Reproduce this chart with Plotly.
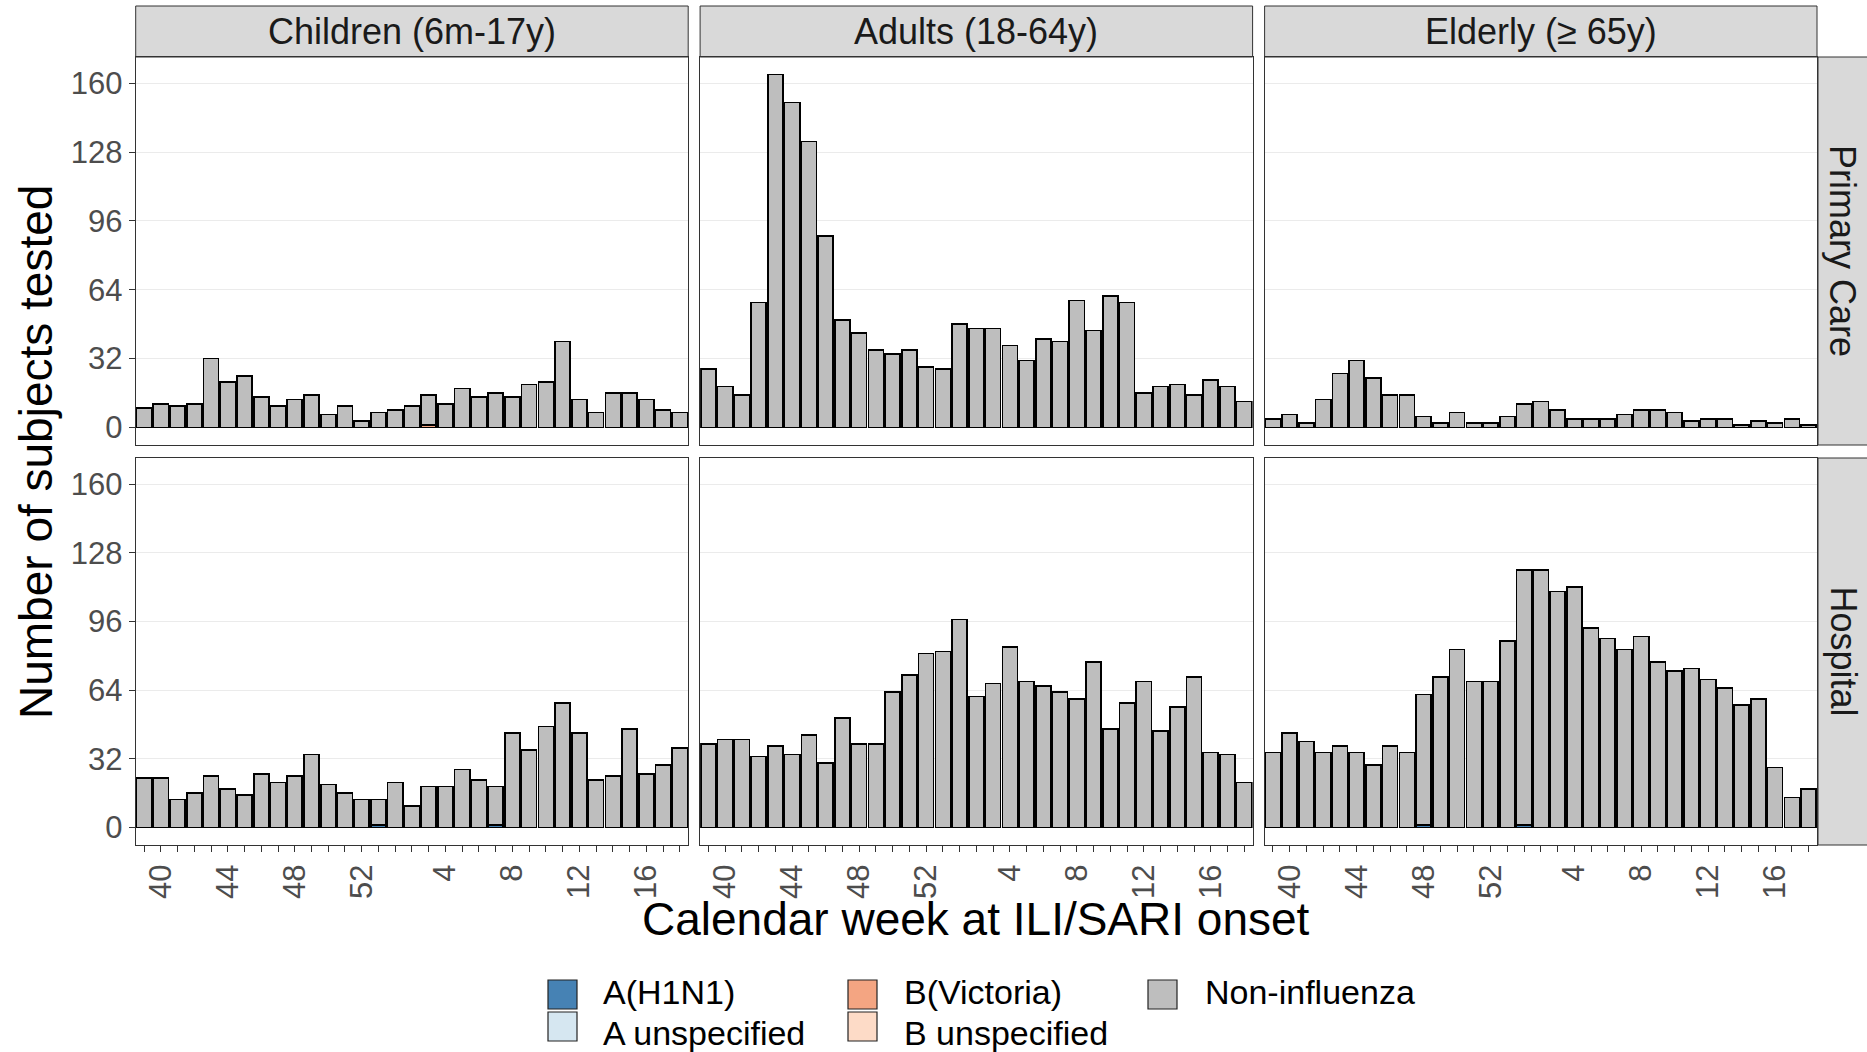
import plotly.graph_objects as go

# Calendar weeks of the season (week 39 of year one through week 18 of year two)
weeks = [str(w) for w in list(range(39, 54)) + list(range(1, 19))]
labelled_weeks = ["40", "44", "48", "52", "4", "8", "12", "16"]

age_groups = ["Children (6m-17y)", "Adults (18-64y)", "Elderly (\u2265 65y)"]
settings = ["Primary Care", "Hospital"]

y_ticks = [0, 32, 64, 96, 128, 160]

# Subjects tested per week, by setting and age group (all tests, influenza included)
pc_children = [9, 11, 10, 11, 32, 21, 24, 14, 10, 13, 15, 6, 10, 3, 7, 8, 10,
               15, 11, 18, 14, 16, 14, 20, 21, 40, 13, 7, 16, 16, 13, 8, 7]
pc_adults = [27, 19, 15, 58, 164, 151, 133, 89, 50, 44, 36, 34, 36, 28, 27, 48, 46,
             46, 38, 31, 41, 40, 59, 45, 61, 58, 16, 19, 20, 15, 22, 19, 12]
pc_elderly = [4, 6, 2, 13, 25, 31, 23, 15, 15, 5, 2, 7, 2, 2, 5, 11, 12,
              8, 4, 4, 4, 6, 8, 8, 7, 3, 4, 4, 1, 3, 2, 4, 1]
hosp_children = [23, 23, 13, 16, 24, 18, 15, 25, 21, 24, 34, 20, 16, 13, 13, 21, 10,
                 19, 19, 27, 22, 19, 44, 36, 47, 58, 44, 22, 24, 46, 25, 29, 37]
hosp_adults = [39, 41, 41, 33, 38, 34, 43, 30, 51, 39, 39, 63, 71, 81, 82, 97, 61,
               67, 84, 68, 66, 63, 60, 77, 46, 58, 68, 45, 56, 70, 35, 34, 21]
hosp_elderly = [35, 44, 40, 35, 38, 35, 29, 38, 35, 62, 70, 83, 68, 68, 87, 120, 120,
                110, 112, 93, 88, 83, 89, 77, 73, 74, 69, 65, 57, 60, 28, 14, 18]

# Influenza-positive subjects (sparse: setting, age group, week -> count)
flu_h1n1 = {("Hospital", "Children (6m-17y)", "53"): 1,
            ("Hospital", "Children (6m-17y)", "7"): 1,
            ("Hospital", "Elderly (\u2265 65y)", "48"): 1,
            ("Hospital", "Elderly (\u2265 65y)", "1"): 1}
flu_a_unspec = {}
flu_b_victoria = {("Primary Care", "Children (6m-17y)", "3"): 1}
flu_b_unspec = {}

totals = {
    ("Primary Care", age_groups[0]): pc_children,
    ("Primary Care", age_groups[1]): pc_adults,
    ("Primary Care", age_groups[2]): pc_elderly,
    ("Hospital", age_groups[0]): hosp_children,
    ("Hospital", age_groups[1]): hosp_adults,
    ("Hospital", age_groups[2]): hosp_elderly,
}

categories = [
    ("A(H1N1)", "#4682B4", flu_h1n1),
    ("A unspecified", "#D6E7F1", flu_a_unspec),
    ("B(Victoria)", "#F4A582", flu_b_victoria),
    ("B unspecified", "#FDDBC7", flu_b_unspec),
]
non_flu_colour = "#BEBEBE"

W, H = 1867, 1052
FONT = "Liberation Sans, Arial, sans-serif"


def fx(p):
    return p / W


def fy(p):
    return 1 - p / H


# Panel geometry in pixels
col_px = [(135.7, 688.2), (700.1, 1252.6), (1264.6, 1817.0)]
row_px = [(57.0, 445.0), (458.0, 845.0)]
strip_top = 6.0
right_strip_x = 1818.0

fig = go.Figure()
layout_axes = {}

for r, setting in enumerate(settings):
    for c, age in enumerate(age_groups):
        idx = r * 3 + c + 1
        xa = "x" if idx == 1 else f"x{idx}"
        ya = "y" if idx == 1 else f"y{idx}"
        total = totals[(setting, age)]
        flu_sum = [0] * len(weeks)
        for name, colour, cases in categories:
            vals = [cases.get((setting, age, w), 0) for w in weeks]
            flu_sum = [a + b for a, b in zip(flu_sum, vals)]
            if any(vals):
                fig.add_trace(go.Bar(
                    x=weeks, y=vals, name=name, xaxis=xa, yaxis=ya,
                    marker=dict(color=colour, line=dict(color="black", width=1.6)),
                    showlegend=False))
        non_flu = [t - f for t, f in zip(total, flu_sum)]
        fig.add_trace(go.Bar(
            x=weeks, y=non_flu, name="Non-influenza", xaxis=xa, yaxis=ya,
            marker=dict(color=non_flu_colour, line=dict(color="black", width=1.6)),
            showlegend=False))

        x0, x1 = col_px[c]
        y0, y1 = row_px[r]
        bottom = r == 1
        left = c == 0
        layout_axes["xaxis" if idx == 1 else f"xaxis{idx}"] = dict(
            domain=[fx(x0), fx(x1)], anchor=ya, type="category",
            categoryorder="array", categoryarray=weeks,
            range=[-0.5, len(weeks) - 0.5],
            showgrid=False, zeroline=False,
            showline=True, mirror=True, linecolor="#333333", linewidth=1,
            ticks="outside" if bottom else "", ticklen=6, tickwidth=1,
            tickcolor="#333333",
            tickmode="array", tickvals=weeks,
            ticktext=[w if w in labelled_weeks else "" for w in weeks],
            tickangle=-90, showticklabels=bottom,
            tickfont=dict(family=FONT, size=31, color="#4D4D4D"),
        )
        layout_axes["yaxis" if idx == 1 else f"yaxis{idx}"] = dict(
            domain=[fy(y1), fy(y0)], anchor=xa,
            range=[-8.2, 172.2], tickmode="array", tickvals=y_ticks,
            showgrid=True, gridcolor="#EBEBEB", gridwidth=1.3, zeroline=False,
            showline=True, mirror=True, linecolor="#333333", linewidth=1,
            ticks="outside" if left else "", ticklen=6, tickwidth=1,
            tickcolor="#333333", showticklabels=left,
            tickfont=dict(family=FONT, size=31, color="#4D4D4D"),
        )

shapes = []
annotations = []

# Facet strips: age groups on top, settings on the right
for c, age in enumerate(age_groups):
    x0, x1 = col_px[c]
    shapes.append(dict(type="rect", xref="paper", yref="paper",
                       x0=fx(x0), x1=fx(x1), y0=fy(row_px[0][0]), y1=fy(strip_top),
                       fillcolor="#D9D9D9", line=dict(color="#333333", width=1),
                       layer="below"))
    annotations.append(dict(text=age, xref="paper", yref="paper",
                            x=fx((x0 + x1) / 2), y=fy((strip_top + row_px[0][0]) / 2),
                            showarrow=False, xanchor="center", yanchor="middle",
                            font=dict(family=FONT, size=36, color="#1A1A1A")))

for r, setting in enumerate(settings):
    y0, y1 = row_px[r]
    shapes.append(dict(type="rect", xref="paper", yref="paper",
                       x0=fx(right_strip_x), x1=fx(W + 40), y0=fy(y1), y1=fy(y0),
                       fillcolor="#D9D9D9", line=dict(color="#333333", width=1),
                       layer="below"))
    annotations.append(dict(text=setting, xref="paper", yref="paper",
                            x=fx(1843), y=fy((y0 + y1) / 2), textangle=90,
                            showarrow=False, xanchor="center", yanchor="middle",
                            font=dict(family=FONT, size=36, color="#1A1A1A")))

# Axis titles
annotations.append(dict(text="Calendar week at ILI/SARI onset", xref="paper", yref="paper",
                        x=fx(976), y=fy(919), showarrow=False,
                        xanchor="center", yanchor="middle",
                        font=dict(family=FONT, size=46, color="black")))
annotations.append(dict(text="Number of subjects tested", xref="paper", yref="paper",
                        x=fx(36), y=fy(452), textangle=-90, showarrow=False,
                        xanchor="center", yanchor="middle",
                        font=dict(family=FONT, size=46, color="black")))

# Legend laid out in three columns, filled column by column
legend_items = [(name, colour) for name, colour, _ in categories] + [("Non-influenza", non_flu_colour)]
key_x = [548, 848, 1148]
text_x = [602, 903, 1204]
key_y = [980, 1012]
key_size = 30
row_split = 1012.5  # boundary between the two legend text rows
for i, (name, colour) in enumerate(legend_items):
    col, row = divmod(i, 2)
    kx, ky = key_x[col], key_y[row]
    shapes.append(dict(type="rect", xref="paper", yref="paper",
                       x0=fx(kx), x1=fx(kx + key_size - 1), y0=fy(ky + key_size - 1), y1=fy(ky),
                       fillcolor=colour, line=dict(color="#222222", width=1.2)))
    annotations.append(dict(text=name, xref="paper", yref="paper",
                            x=fx(text_x[col]),
                            y=fy(row_split - 0.5) if row == 0 else fy(row_split + 0.5),
                            showarrow=False, xanchor="left",
                            yanchor="bottom" if row == 0 else "top",
                            borderpad=0,
                            font=dict(family=FONT, size=34, color="black")))

fig.update_layout(
    width=W, height=H,
    margin=dict(l=0, r=0, t=0, b=0),
    paper_bgcolor="white", plot_bgcolor="white",
    barmode="stack", bargap=0.1,
    showlegend=False,
    shapes=shapes, annotations=annotations,
    font=dict(family=FONT),
    **layout_axes,
)

fig.write_html("out.html")
